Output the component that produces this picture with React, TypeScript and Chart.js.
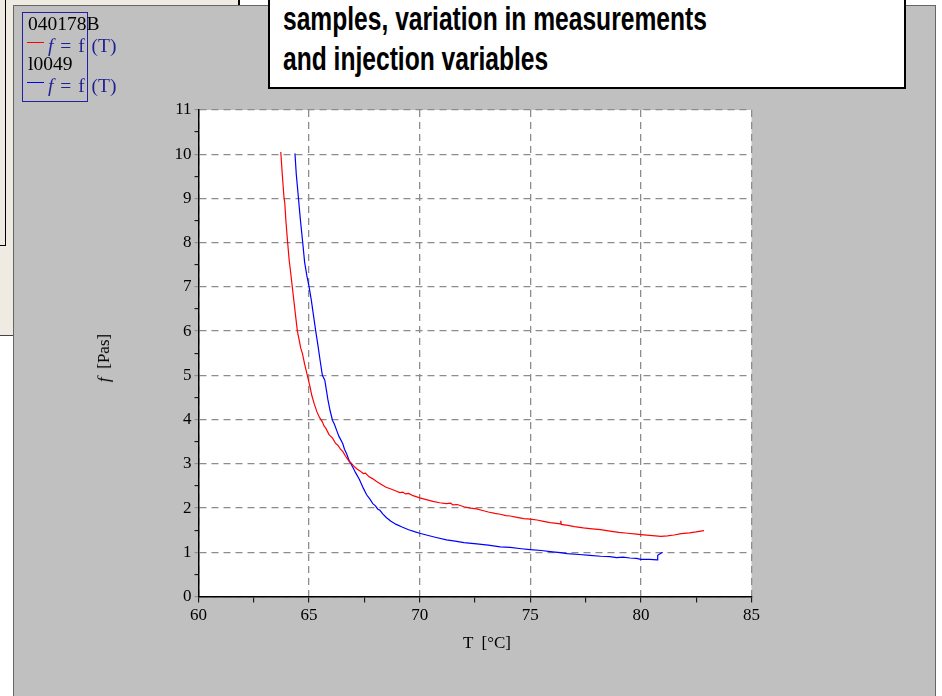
import React, { useEffect, useRef } from "react";
import { Chart, registerables } from "chart.js";

Chart.register(...registerables);

// ---- data ----
const seriesNames = ["040178B", "l0049"];

const redT = [63.72, 63.78, 63.86, 63.9, 63.95, 64.02, 64.1, 64.15, 64.24, 64.32, 64.4, 64.47, 64.55, 64.62, 64.7, 64.8, 64.92, 65.05, 65.12, 65.23, 65.35, 65.47, 65.6, 65.68, 65.76, 65.9, 66.06, 66.2, 66.3, 66.42, 66.52, 66.65, 66.8, 66.9, 67.0, 67.15, 67.3, 67.45, 67.55, 67.7, 67.88, 68.05, 68.25, 68.48, 68.7, 68.9, 69.1, 69.24, 69.35, 69.5, 69.7, 70.0, 70.3, 70.6, 70.9, 71.2, 71.4, 71.5, 71.7, 72.0, 72.3, 72.58, 72.8, 73.1, 73.4, 73.64, 73.9, 74.09, 74.4, 74.7, 75.0, 75.3, 75.6, 75.9, 76.1, 76.36, 76.38, 76.4, 76.7, 77.0, 77.4, 77.8, 78.18, 78.6, 79.0, 79.4, 79.8, 80.0, 80.4, 80.9, 81.2, 81.5, 81.82, 82.2, 82.5, 82.85];
const redF = [10.05, 9.6, 9.05, 8.9, 8.5, 8.06, 7.6, 7.4, 7.0, 6.65, 6.3, 6.0, 5.8, 5.62, 5.49, 5.25, 5.0, 4.72, 4.55, 4.36, 4.18, 4.05, 3.95, 3.85, 3.8, 3.66, 3.58, 3.46, 3.42, 3.33, 3.28, 3.17, 3.06, 3.02, 2.96, 2.89, 2.84, 2.78, 2.79, 2.71, 2.66, 2.6, 2.54, 2.47, 2.43, 2.39, 2.35, 2.36, 2.32, 2.33, 2.28, 2.23, 2.19, 2.15, 2.12, 2.1, 2.11, 2.07, 2.08, 2.03, 2.0, 1.98, 1.95, 1.91, 1.88, 1.86, 1.83, 1.82, 1.79, 1.76, 1.75, 1.73, 1.7, 1.67, 1.66, 1.64, 1.71, 1.63, 1.61, 1.58, 1.55, 1.53, 1.51, 1.48, 1.45, 1.43, 1.41, 1.4, 1.38, 1.36, 1.37, 1.39, 1.42, 1.44, 1.46, 1.49];

const blueT = [64.36, 64.42, 64.52, 64.6, 64.7, 64.8, 64.9, 65.0, 65.1, 65.2, 65.3, 65.4, 65.5, 65.6, 65.71, 65.85, 65.95, 66.06, 66.14, 66.25, 66.35, 66.52, 66.6, 66.7, 66.82, 66.89, 67.0, 67.1, 67.27, 67.45, 67.6, 67.75, 67.88, 68.0, 68.1, 68.2, 68.33, 68.5, 68.7, 68.94, 69.2, 69.5, 69.8, 70.0, 70.3, 70.7, 71.21, 71.6, 72.0, 72.58, 73.1, 73.64, 74.09, 74.6, 75.0, 75.5, 76.0, 76.36, 76.67, 77.2, 77.7, 78.18, 78.6, 78.9, 79.2, 79.5, 79.8, 80.0, 80.4, 80.73, 80.76, 80.85, 80.98];
const blueF = [10.02, 9.55, 9.0, 8.55, 8.06, 7.55, 7.25, 7.0, 6.7, 6.35, 6.0, 5.68, 5.33, 5.0, 4.89, 4.45, 4.2, 3.98, 3.9, 3.75, 3.62, 3.46, 3.33, 3.22, 3.06, 3.0, 2.9, 2.8, 2.65, 2.45, 2.3, 2.2, 2.1, 2.05, 1.98, 1.95, 1.87, 1.78, 1.7, 1.63, 1.57, 1.51, 1.46, 1.43, 1.39, 1.34, 1.28, 1.25, 1.22, 1.19, 1.16, 1.12, 1.11, 1.08, 1.06, 1.04, 1.01, 0.99, 0.97, 0.95, 0.93, 0.91, 0.9, 0.88, 0.89, 0.87, 0.86, 0.84, 0.84, 0.83, 0.93, 0.96, 1.0];

const xMin = 60;
const xMax = 85;
const xStep = 2.5;
const xLabelEvery = 5;
const yMin = 0;
const yMax = 11;
const yStep = 0.5;

const titleLines = ["samples, variation in measurements", "and injection variables"];
const xTitle = "T  [°C]";
const yTitleUnit = "  [Pas]";

const serif = "'Liberation Serif', 'Times New Roman', serif";

const bgPlugin = {
  id: "plotBg",
  beforeDraw(chart: any) {
    const { ctx, chartArea } = chart;
    if (!chartArea) return;
    ctx.save();
    ctx.fillStyle = "#ffffff";
    ctx.fillRect(chartArea.left, chartArea.top, chartArea.right - chartArea.left, chartArea.bottom - chartArea.top);
    ctx.restore();
  },
};

function abs(left: number, top: number, extra: any = {}) {
  return { position: "absolute" as const, left, top, ...extra };
}

export default function App() {
  const ref = useRef<HTMLCanvasElement | null>(null);

  useEffect(() => {
    document.body.style.margin = "0";
    const canvas = ref.current;
    if (!canvas) return;
    const chart = new Chart(canvas, {
      type: "line",
      data: {
        datasets: [
          {
            label: seriesNames[0],
            data: redT.map((t, i) => ({ x: t, y: redF[i] })),
            borderColor: "#ff0000",
            borderWidth: 1.2,
            pointRadius: 0,
            fill: false,
            tension: 0,
          },
          {
            label: seriesNames[1],
            data: blueT.map((t, i) => ({ x: t, y: blueF[i] })),
            borderColor: "#0000ff",
            borderWidth: 1.2,
            pointRadius: 0,
            fill: false,
            tension: 0,
          },
        ],
      },
      options: {
        animation: false,
        responsive: false,
        layout: { padding: { left: 0, top: 110, right: 190.5, bottom: 0 } },
        plugins: { legend: { display: false }, tooltip: { enabled: false }, title: { display: false } },
        scales: {
          x: {
            type: "linear",
            min: xMin,
            max: xMax,
            afterFit: (s: any) => {
              s.height = 99.5;
            },
            ticks: {
              stepSize: xStep,
              autoSkip: false,
              maxRotation: 0,
              color: "#000",
              padding: 3,
              font: { family: serif, size: 17 },
              callback: (v: any) => (Number(v) % xLabelEvery === 0 ? String(v) : ""),
            },
            grid: {
              color: (c: any) => (c.tick && c.tick.value % xLabelEvery === 0 ? "#8c8c8c" : "rgba(0,0,0,0)"),
              lineWidth: 1.3,
              tickLength: 6,
              tickColor: "#000",
              tickWidth: 1,
            },
            border: { display: true, color: "#000", width: 1.5, dash: [7, 5] },
          },
          y: {
            type: "linear",
            min: yMin,
            max: yMax,
            afterFit: (s: any) => {
              s.width = 198.5;
            },
            ticks: {
              stepSize: yStep,
              autoSkip: false,
              color: "#000",
              padding: 3,
              font: { family: serif, size: 17 },
              callback: (v: any) => (Number(v) % 1 === 0 ? String(v) : ""),
            },
            grid: {
              color: (c: any) => (c.tick && c.tick.value % 1 === 0 ? "#8c8c8c" : "rgba(0,0,0,0)"),
              lineWidth: 1.3,
              tickLength: 4,
              tickColor: (c: any) => (c.tick && c.tick.value % 1 === 0 ? "#888" : "#000"),
              tickWidth: 1,
            },
            border: { display: true, color: "#000", width: 1.5, dash: [7, 5] },
          },
        },
      },
      plugins: [bgPlugin],
    } as any);
    return () => chart.destroy();
  }, []);

  const legendText = { fontFamily: serif, fontSize: 19.5, lineHeight: "20px", whiteSpace: "nowrap" as const };
  const navy = "#1f1f96";

  return (
    <div style={{ position: "absolute", left: 0, top: 0, width: 942, height: 696, overflow: "hidden", background: "#ffffff" }}>
      {/* beige window behind */}
      <div style={abs(0, 0, { width: 238, height: 335, background: "#efebe2", borderRight: "2px solid #000", borderBottom: "1px solid #444" })} />
      <div style={abs(-10, -10, { width: 14, height: 254, border: "1.5px solid #000" })} />
      {/* gray panel */}
      <div style={abs(13, 5, { width: 921, height: 700, background: "#c0c0c0", border: "1.5px solid #666" })} />
      {/* chart */}
      <canvas ref={ref} width={942} height={696} style={abs(0, 0, { width: 942, height: 696 })} />
      {/* axis titles */}
      <div style={abs(487, 643, { transform: "translate(-50%,-50%)", fontFamily: serif, fontSize: 17, whiteSpace: "pre", color: "#000" })}>
        {xTitle}
      </div>
      <div style={abs(104, 358, { transform: "translate(-50%,-50%) rotate(-90deg)", fontFamily: serif, fontSize: 17, whiteSpace: "pre", color: "#000" })}>
        <i>f</i>
        {yTitleUnit}
      </div>
      {/* legend */}
      <div style={abs(22, 12, { width: 66, height: 90, border: "1px solid #2020a0", boxSizing: "border-box" })} />
      <div style={abs(28, 14.3, { ...legendText, color: "#000" })}>{seriesNames[0]}</div>
      <div style={abs(27, 41.5, { width: 17, height: 1.5, background: "#ff0000" })} />
      <div style={abs(48, 35.6, { ...legendText, color: navy, wordSpacing: 2 })}>
        <i>f</i> = f (T)
      </div>
      <div style={abs(28, 54.3, { ...legendText, color: "#000" })}>{seriesNames[1]}</div>
      <div style={abs(27, 81.5, { width: 17, height: 1.5, background: "#0000ff" })} />
      <div style={abs(48, 75.6, { ...legendText, color: navy, wordSpacing: 2 })}>
        <i>f</i> = f (T)
      </div>
      {/* title box */}
      <div style={abs(268, -10, { width: 638, height: 99, background: "#fff", border: "2px solid #000", boxSizing: "border-box" })} />
      {titleLines.map((t, i) => (
        <div
          key={i}
          style={abs(283, 2.6 + i * 40, {
            fontFamily: "'Liberation Sans', Arial, sans-serif",
            fontWeight: "bold",
            fontSize: 30,
            lineHeight: "30px",
            whiteSpace: "nowrap",
            color: "#000",
            transform: "scale(0.82, 1.08)",
            transformOrigin: "0 0",
          })}
        >
          {t}
        </div>
      ))}
    </div>
  );
}
